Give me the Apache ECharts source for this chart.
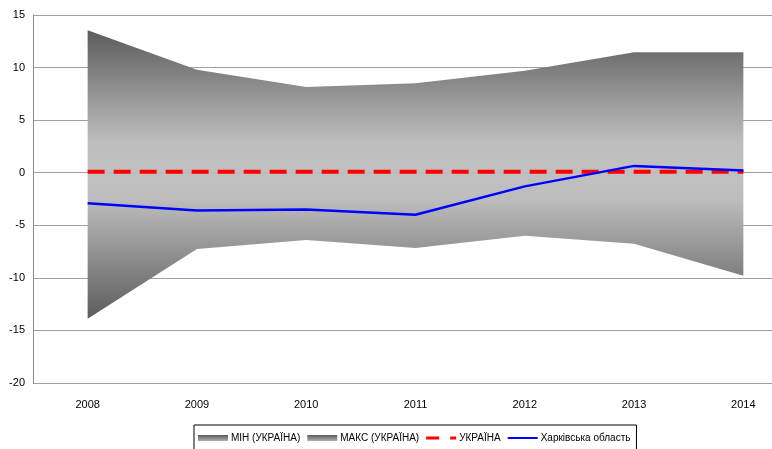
<!DOCTYPE html>
<html>
<head>
<meta charset="utf-8">
<script src="https://cdn.jsdelivr.net/npm/echarts@6/dist/echarts.min.js"></script>
<style>
  html, body { margin: 0; padding: 0; background: #fff; }
  #chart { width: 772px; height: 449px; }
</style>
</head>
<body>
<div id="chart"></div>
<script>
  // роки
  const years = ['2008', '2009', '2010', '2011', '2012', '2013', '2014']
  // мінімум / максимум по Україні
  const minUkr = [-13.9, -7.25, -6.4, -7.15, -6.0, -6.75, -9.8]
  const maxUkr = [13.55, 9.8, 8.15, 8.5, 9.7, 11.45, 11.45]
  // Україна в цілому
  const ukraine = [0.1, 0.1, 0.1, 0.1, 0.1, 0.1, 0.1]
  // Харківська область
  const kharkiv = [-2.9, -3.6, -3.5, -4.0, -1.3, 0.65, 0.2]

  const font = "'Liberation Sans Narrow', 'Liberation Sans', Arial, sans-serif"

  const grad = (stops) => new echarts.graphic.LinearGradient(0, 0, 0, 1,
    stops.map(([o, c]) => ({ offset: o, color: c })))

  const maxFill = grad([[0, '#5c5c5c'], [0.78, '#bdbdbd'], [1, '#c0c0c0']])
  const minFill = grad([[0, '#c0c0c0'], [0.18, '#bdbdbd'], [1, '#5c5c5c']])
  const iconFill = grad([[0, '#5a5a5a'], [1, '#b0b0b0']])

  // іконки легенди (коробка 30x6)
  const dashIcon = 'path://M0,0h0.01v0.01zM0,1.5h13v3h-13zM24,1.5h6v3h-6zM30,6h-0.01v-0.01z'
  const lineIcon = 'path://M0,0h0.01v0.01zM0,2h30v2h-30zM30,6h-0.01v-0.01z'

  const chart = echarts.init(document.getElementById('chart'))

  chart.setOption({
    animation: false,
    grid: { left: 33, top: 15, bottom: 66, right: -26, outerBoundsMode: 'none', containLabel: false },
    legend: {
      top: 425,
      left: 194,
      padding: [8, 6, 10, 4],
      borderColor: '#000',
      borderWidth: 1,
      itemGap: 7,
      itemWidth: 30,
      itemHeight: 6,
      textStyle: { fontFamily: font, fontSize: 10, color: '#000', padding: [0, 0, 0, -2] },
      data: [
        { name: 'МІН (УКРАЇНА)', icon: 'rect', itemStyle: { color: iconFill } },
        { name: 'МАКС (УКРАЇНА)', icon: 'rect', itemStyle: { color: iconFill } },
        { name: 'УКРАЇНА', icon: dashIcon, itemStyle: { color: '#ff0000' } },
        { name: 'Харківська область', icon: lineIcon, itemStyle: { color: '#0000ff' } }
      ]
    },
    xAxis: {
      type: 'category',
      data: years,
      boundaryGap: true,
      axisLine: { show: false },
      axisTick: { show: false },
      axisLabel: { fontFamily: font, fontSize: 11, color: '#000', margin: 16 }
    },
    yAxis: {
      type: 'value',
      min: -20,
      max: 15,
      interval: 5,
      axisLine: { show: true, lineStyle: { color: '#888' } },
      axisTick: { show: false },
      splitLine: { lineStyle: { color: '#a0a0a0', width: 1 } },
      axisLabel: { fontFamily: font, fontSize: 11, color: '#000', margin: 8 }
    },
    series: [
      {
        name: 'МАКС (УКРАЇНА)',
        type: 'line',
        data: maxUkr,
        symbol: 'none',
        lineStyle: { width: 0 },
        areaStyle: { color: maxFill, opacity: 1 },
        z: 1
      },
      {
        name: 'МІН (УКРАЇНА)',
        type: 'line',
        data: minUkr,
        symbol: 'none',
        lineStyle: { width: 0 },
        areaStyle: { color: minFill, opacity: 1 },
        z: 1
      },
      {
        name: 'УКРАЇНА',
        type: 'line',
        data: ukraine,
        symbol: 'none',
        color: '#ff0000',
        lineStyle: { color: '#ff0000', width: 4, type: [17, 9] },
        z: 3
      },
      {
        name: 'Харківська область',
        type: 'line',
        data: kharkiv,
        symbol: 'none',
        color: '#0000ff',
        lineStyle: { color: '#0000ff', width: 2.5 },
        z: 4
      }
    ]
  })
</script>
</body>
</html>
